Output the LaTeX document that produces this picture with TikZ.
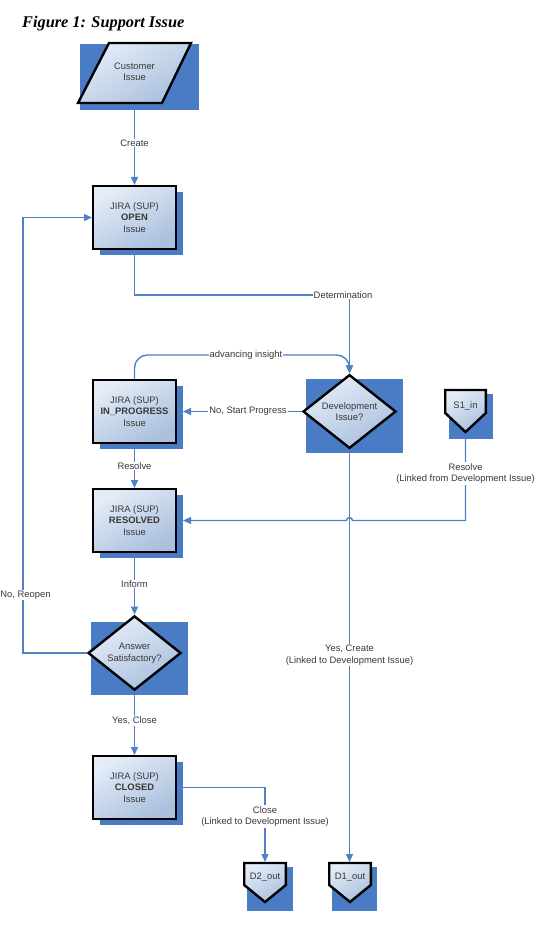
\documentclass[tikz,border=0pt]{standalone}
\usepackage{fontspec}
\setmainfont{Liberation Sans}
\newfontfamily\titlefont{Liberation Serif}
\usetikzlibrary{shapes.geometric,arrows.meta,shadows,calc}
\definecolor{shadowblue}{HTML}{4A7BC5}
\definecolor{linkblue}{HTML}{4F81C4}
\definecolor{boxlight}{HTML}{E4ECF7}
\definecolor{boxdark}{HTML}{AAC0DE}
\definecolor{txtgray}{HTML}{383838}
\tikzset{
  lbl/.style={font=\fontsize{9.4}{11.5}\selectfont, text=txtgray, align=center, inner sep=1pt},
  onlbl/.style={lbl, fill=white},
  shapefill/.style={top color=boxlight, bottom color=boxdark, shading angle=30},
  outline/.style={draw=black, line width=2.4pt, line join=miter},
  jirabox/.style={lbl, shapefill, outline, minimum width=82.6pt, minimum height=62.6pt, inner sep=0pt,
    drop shadow={shadow xshift=7pt, shadow yshift=-6pt, fill=shadowblue, opacity=1}},
  decision/.style={lbl, shapefill, outline, diamond, minimum width=93pt, minimum height=69pt, inner sep=0pt},
  shadowrect/.style={fill=shadowblue},
  conn/.style={draw=linkblue, line width=1.4pt},
  arr/.style={conn, -{Triangle[length=8pt,width=7pt]}},
}
\begin{document}
\begin{tikzpicture}[x=1pt,y=-1pt]
\useasboundingbox (0,0) rectangle (547,952);

% title
\node[anchor=base west, inner sep=0pt, font=\titlefont\bfseries\itshape\fontsize{16.3}{18}\selectfont] (title) at (22,28) {Figure 1: Support Issue};

% rectangular shadows
\fill[shadowrect] (80,44) rectangle (199,110);
\fill[shadowrect] (306,379) rectangle (403,453);
\fill[shadowrect] (91,622) rectangle (188,695);
\fill[shadowrect] (449,394) rectangle (493,439);
\fill[shadowrect] (247,867) rectangle (293,911);
\fill[shadowrect] (332,867) rectangle (377,911);

% customer issue (parallelogram)
\path[shapefill, outline] (109,43) -- (191,43) -- (162,103) -- (78,103) -- cycle;
\node[lbl] (cust) at (134.5,72) {Customer\\Issue};
\coordinate (custbot) at (134.5,110);

% JIRA boxes
\node[jirabox] (open) at (134.5,217.5) {JIRA (SUP)\\\textbf{OPEN}\\Issue};
\node[jirabox] (inprog) at (134.5,411.5) {JIRA (SUP)\\\textbf{IN\_PROGRESS}\\Issue};
\node[jirabox] (resolved) at (134.5,520.5) {JIRA (SUP)\\\textbf{RESOLVED}\\Issue};
\node[jirabox] (closed) at (134.5,787.5) {JIRA (SUP)\\\textbf{CLOSED}\\Issue};

% decisions
\node[decision] (dev) at (349.5,411.5) {Development\\Issue?};
\node[decision, minimum height=68pt] (answer) at (134.5,653) {Answer\\Satisfactory?};
\coordinate (devbot) at (349.5,453);
\coordinate (ansbot) at (134.5,695);

% off-page connectors
\path[shapefill, outline] (445.2,390) -- (485.8,390) -- (485.8,413) -- (465.5,432) -- (445.2,413) -- cycle;
\node[lbl] (s1) at (465.5,406) {S1\_in};
\coordinate (s1bot) at (465.5,439);

\path[shapefill, outline] (244.2,863) -- (285.8,863) -- (285.8,885) -- (265,902) -- (244.2,885) -- cycle;
\node[lbl] (d2) at (265,877) {D2\_out};
\coordinate (d2top) at (265,862);

\path[shapefill, outline] (329.2,863) -- (370.8,863) -- (370.8,885) -- (350,902) -- (329.2,885) -- cycle;
\node[lbl] (d1) at (350,877) {D1\_out};
\coordinate (d1top) at (349.5,862);

% connectors
\draw[arr] (custbot) -- (open.north);
\draw[arr] (open.south) -- (134.5,295) -- (349.5,295) -- (dev.north);
\draw[arr, rounded corners=13pt] (inprog.north) |- (349.5,355) -- (dev.north);
\draw[arr] (dev.west) -- ($(inprog.east)+(6,0)$);
\coordinate (hopR) at (352.5,520.5);
\draw[arr] (s1bot) |- (hopR) arc[start angle=0, end angle=-180, radius=3] -- ($(resolved.east)+(6,0)$);
\draw[arr] (inprog.south) -- (resolved.north);
\draw[arr] (resolved.south) -- (answer.north);
\draw[arr] (answer.west) -- (23,653) |- (open.west);
\draw[arr] (ansbot) -- (closed.north);
\draw[arr] (closed.east) -| (d2top);
\draw[arr] (devbot) -- (d1top);

% labels
\node[onlbl] (lcreate) at (134.5,143) {Create};
\node[onlbl] (ldeterm) at (343,295) {Determination};
\node[onlbl] (ladv) at (246,355) {advancing insight};
\node[onlbl] (lnostart) at (248,411.5) {No, Start Progress};
\node[onlbl] (lresolve1) at (465.5,473.5) {Resolve\\(Linked from Development Issue)};
\node[onlbl] (lresolve2) at (134.5,466) {Resolve};
\node[onlbl] (linform) at (134.5,584) {Inform};
\node[onlbl] (lreopen) at (25.5,595) {No, Reopen};
\node[onlbl] (lyesclose) at (134.5,721) {Yes, Close};
\node[onlbl] (lclose) at (265,816.5) {Close\\(Linked to Development Issue)};
\node[onlbl] (lyescreate) at (349.5,655) {Yes, Create\\(Linked to Development Issue)};
\end{tikzpicture}
\end{document}
